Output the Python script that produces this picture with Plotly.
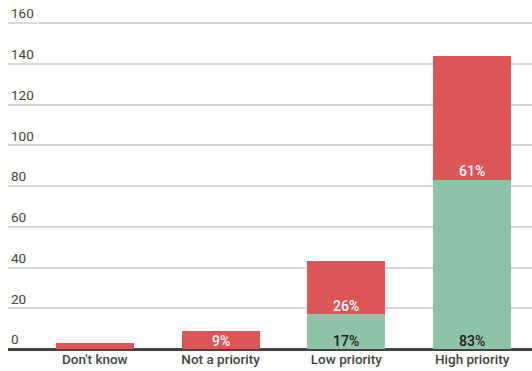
import plotly.graph_objects as go

categories = ["Don't know", "Not a priority", "Low priority", "High priority"]
green_values = [None, None, 17, 83]
red_values = [3, 9, 26, 61]
y_ticks = [0, 20, 40, 60, 80, 100, 120, 140, 160]

GREEN = "#8FC3A7"
RED = "#DC5557"
BAR_WIDTH = 0.62

fig = go.Figure()
fig.add_trace(go.Bar(
    x=categories, y=green_values, name="green",
    marker=dict(color=GREEN, line=dict(width=0)),
    width=BAR_WIDTH, hoverinfo="x+y",
))
fig.add_trace(go.Bar(
    x=categories, y=red_values, name="red",
    marker=dict(color=RED, line=dict(width=0)),
    width=BAR_WIDTH, hoverinfo="x+y",
))

# Percent labels sit just above the bottom edge of each stacked segment;
# segments too short to hold a label stay unlabeled.
for i, cat in enumerate(categories):
    base = 0
    for values, color in ((green_values, "#1a1a1a"), (red_values, "white")):
        v = values[i]
        if v:
            if v >= 5:
                fig.add_annotation(
                    x=cat, y=base, text=f"{v}%",
                    xref="x", yref="y",
                    yanchor="bottom", yshift=-1.5, showarrow=False,
                    font=dict(family="Roboto", size=14, color=color, weight=500),
                )
            base += v

fig.update_layout(
    barmode="stack",
    width=532, height=371,
    margin=dict(l=8, r=0, t=0, b=22),
    paper_bgcolor="white", plot_bgcolor="white",
    showlegend=False,
    font=dict(family="Roboto", size=13, color="#444"),
    xaxis=dict(
        range=[-0.69, 3.476],
        showgrid=False, zeroline=False,
        showline=False, ticks="",
        tickfont=dict(family="Roboto", size=13.5, color="#444", weight=500),
    ),
    yaxis=dict(
        range=[0, 171.3],
        tickvals=y_ticks,
        ticklabelposition="inside top",
        showgrid=True, gridcolor="#d8d8d8", gridwidth=2,
        zeroline=True, zerolinecolor="#444", zerolinewidth=3,
        tickfont=dict(family="Roboto", size=13.5, color="#444"),
        ticks="",
    ),
)

fig.write_html("out.html")
